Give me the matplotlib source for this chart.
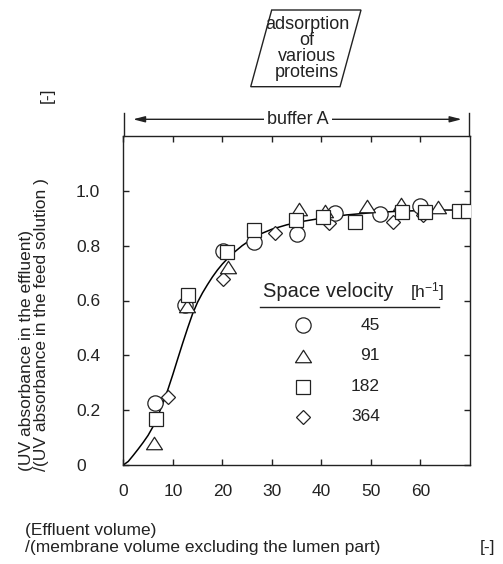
import matplotlib
matplotlib.use("Agg")
import matplotlib.pyplot as plt
from matplotlib.patches import Polygon
from matplotlib.lines import Line2D
from matplotlib.path import Path

plt.rcParams['font.family'] = ['Liberation Sans', 'DejaVu Sans']
plt.rcParams['mathtext.fontset'] = 'custom'
plt.rcParams['mathtext.rm'] = 'Liberation Sans'
plt.rcParams['mathtext.default'] = 'regular'

# ---------------- data ----------------
sv_labels = ["45", "91", "182", "364"]

x45 = [6.4, 12.5, 20.2, 26.3, 35.0, 42.8, 51.9, 59.9]
y45 = [0.227, 0.584, 0.78, 0.815, 0.843, 0.918, 0.916, 0.945]

x91 = [6.2, 12.9, 21.2, 35.4, 40.8, 49.3, 56.0, 63.6]
y91 = [0.079, 0.58, 0.724, 0.933, 0.925, 0.945, 0.953, 0.94]

x182 = [6.6, 13.1, 20.9, 26.3, 34.9, 40.3, 46.8, 56.2, 61.0, 67.7, 69.6]
y182 = [0.167, 0.62, 0.778, 0.858, 0.892, 0.906, 0.886, 0.921, 0.924, 0.927, 0.927]

x364 = [9.1, 20.2, 30.6, 41.6, 54.5, 60.6]
y364 = [0.249, 0.678, 0.846, 0.882, 0.888, 0.912]

curve_x = [0, 1, 2, 3, 4, 5, 6, 7, 8, 9, 10, 11, 12, 13, 14, 15, 16, 17, 18, 19, 20,
           21, 22, 24, 26, 28, 30, 33, 36, 40, 45, 50, 55, 60, 65, 70]
curve_y = [0, 0.013, 0.035, 0.058, 0.082, 0.108, 0.14, 0.18, 0.225, 0.275, 0.33,
           0.388, 0.445, 0.5, 0.552, 0.594, 0.628, 0.658, 0.686, 0.711, 0.733,
           0.752, 0.77, 0.8, 0.825, 0.845, 0.86, 0.876, 0.888, 0.9, 0.912, 0.92,
           0.925, 0.928, 0.93, 0.93]

xticks = [0, 10, 20, 30, 40, 50, 60]
yticks = [0, 0.2, 0.4, 0.6, 0.8, 1.0]
ytick_labels = ["0", "0.2", "0.4", "0.6", "0.8", "1.0"]

# ---------------- figure ----------------
W, H = 503, 564
fig = plt.figure(figsize=(W / 100, H / 100), dpi=100)

def fx(px):
    return px / W

def fy(py):
    return 1 - py / H

ax_l, ax_r, ax_t, ax_b = 123.3, 470.0, 136.0, 465.0
ax = fig.add_axes([fx(ax_l), fy(ax_b), (ax_r - ax_l) / W, (ax_b - ax_t) / H])
ax.set_xlim(0, 70)
ax.set_ylim(0, 1.2)
for s in ax.spines.values():
    s.set_linewidth(1.0)
    s.set_color('#222222')

ax.set_xticks(xticks)
ax.set_yticks(yticks)
ax.set_yticklabels(ytick_labels)
ax.tick_params(axis='both', direction='in', length=4, width=1.0, color='#222222',
               top=True, right=True, labelsize=12.5, labelcolor='#222222')
ax.tick_params(axis='x', pad=14)
ax.tick_params(axis='y', pad=34)
for lab in ax.get_yticklabels():
    lab.set_horizontalalignment('left')

ec = '#222222'
ax.plot(curve_x, curve_y, color='black', lw=1.1, zorder=2, solid_joinstyle='round')

tri_path = Path([(-1, -0.78), (1, -0.78), (0, 0.78), (-1, -0.78)],
                [Path.MOVETO, Path.LINETO, Path.LINETO, Path.CLOSEPOLY])

mk = dict(mfc='white', mec=ec, mew=0.9, ls='none')
ax.plot(x364, y364, marker='D', ms=7.5, zorder=3, **mk)
ax.plot(x45, y45, marker='o', ms=11.0, zorder=4, **mk)
ax.plot(x91, y91, marker=tri_path, ms=11.5, zorder=5, **mk)
ax.plot(x182, y182, marker='s', ms=10.6, zorder=6, **mk)

# ---------------- legend (table style) ----------------
def axx(px):
    return (px - ax_l) / (ax_r - ax_l)

def axy(py):
    return (ax_b - py) / (ax_b - ax_t)

ax.text(axx(263.3), axy(291.7), "Space velocity", transform=ax.transAxes,
        ha='left', va='center', fontsize=14.5, color='#222222')
ax.text(axx(410), axy(291.7), "[h$^{-1}$]", transform=ax.transAxes,
        ha='left', va='center', fontsize=12.5, color='#222222')
ax.add_line(Line2D([axx(260), axx(439.3)], [axy(307.3), axy(307.3)],
                   transform=ax.transAxes, color='#222222', lw=1.0))
leg_markers = [('o', 11.0), (tri_path, 11.5), ('s', 10.6), ('D', 7.5)]
rows_py = [325, 356, 386.7, 416.7]
for (m, ms), lab, py in zip(leg_markers, sv_labels, rows_py):
    ax.plot([axx(303.3)], [axy(py)], marker=m, ms=ms, transform=ax.transAxes,
            clip_on=False, zorder=7, **mk)
    ax.text(axx(380), axy(py), lab, transform=ax.transAxes, ha='right', va='center',
            fontsize=12.5, color='#222222')

# ---------------- axis labels ----------------
fig.text(fx(25), fy(530), "(Effluent volume)", ha='left', va='center', fontsize=12.5,
         color='#222222')
fig.text(fx(25), fy(547.5), "/(membrane volume excluding the lumen part)", ha='left',
         va='center', fontsize=12.5, color='#222222')
fig.text(fx(480), fy(547.5), "[-]", ha='left', va='center', fontsize=12.5, color='#222222')

fig.text(fx(26.7), fy(471), "(UV absorbance in the effluent)", rotation=90,
         ha='center', va='bottom', fontsize=12.5, color='#222222')
fig.text(fx(41.7), fy(471), "/(UV absorbance in the feed solution )", rotation=90,
         ha='center', va='bottom', fontsize=12.5, color='#222222')
fig.text(fx(47.5), fy(95), "[-]", rotation=90, ha='center', va='center',
         fontsize=12.5, color='#222222')

# ---------------- top annotations ----------------
para = Polygon([(fx(271.7), fy(10)), (fx(361), fy(10)), (fx(340), fy(86.7)),
                (fx(250.7), fy(86.7))], closed=True, transform=fig.transFigure,
               facecolor='white', edgecolor='#222222', lw=1.0)
fig.patches.append(para)
fig.text(fx(307), fy(48.5), "adsorption\nof\nvarious\nproteins", ha='center',
         va='center', fontsize=13, linespacing=0.92, color='#222222')

for px in (124, 469.3):
    fig.add_artist(Line2D([fx(px), fx(px)], [fy(113), fy(136)],
                          transform=fig.transFigure, color='#222222', lw=1.0))
ax.annotate('', xy=(fx(461.7), fy(119.3)), xytext=(fx(133), fy(119.3)),
            xycoords='figure fraction', textcoords='figure fraction',
            arrowprops=dict(arrowstyle='<|-|>,head_length=0.7,head_width=0.18',
                            color='#222222', lw=1.0, shrinkA=0, shrinkB=0))
fig.text(fx(298), fy(119.3), "buffer A", ha='center', va='center', fontsize=13,
         color='#222222',
         bbox=dict(facecolor='white', edgecolor='none', pad=2.5), zorder=10)

fig.savefig("out.png", dpi=100)
